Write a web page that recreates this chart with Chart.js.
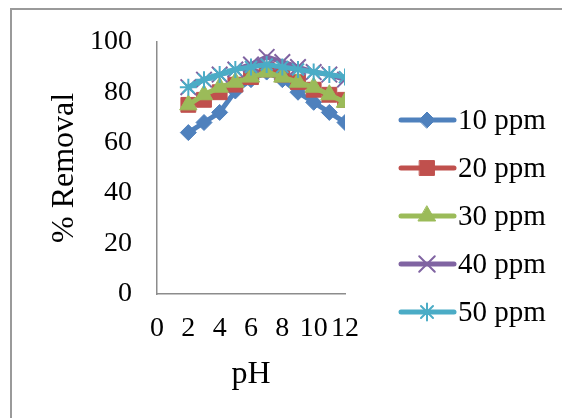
<!DOCTYPE html>
<html>
<head>
<meta charset="utf-8">
<script src="https://cdn.jsdelivr.net/npm/chart.js@4/dist/chart.umd.min.js"></script>
<style>
  html, body { margin: 0; padding: 0; background: #fff; }
  #wrap { position: relative; width: 562px; height: 418px; overflow: hidden; }
  #frame { position: absolute; left: 10px; top: 8px; width: 600px; height: 450px;
           border-top: 2px solid #9a9a9a; border-left: 2px solid #9a9a9a; }
  #chart { position: absolute; left: 0; top: 0; }
</style>
</head>
<body>
<div id="wrap">
  <div id="frame"></div>
  <canvas id="chart" width="562" height="418"></canvas>
</div>
<script>
// pH values and % removal per concentration
var phValues = [2, 3, 4, 5, 6, 7, 8, 9, 10, 11, 12];
var ppm10 = [64, 68, 72, 80.5, 85, 88, 85, 80, 76, 72, 68];
var ppm20 = [75, 77, 80, 83, 86, 89, 87, 84, 81, 79, 77];
var ppm30 = [75, 79, 82, 84, 86, 88, 86, 84, 82, 79, 76];
var ppm40 = [82, 85, 87, 89, 91, 94, 92, 90, 88, 87, 85];
var ppm50 = [82, 85, 87, 89, 90, 91, 90, 89, 88, 87, 86];
var seriesLabels = ['10 ppm', '20 ppm', '30 ppm', '40 ppm', '50 ppm'];
var xTicks = [0, 2, 4, 6, 8, 10, 12];
var yTicks = [0, 20, 40, 60, 80, 100];

var serif = '"Liberation Serif", "Times New Roman", serif';

function toPoints(vals) {
    return vals.map(function (v, i) { return { x: phValues[i], y: v }; });
}

function makeSet(label, vals, color, style, radius, bw, order) {
    return {
        label: label,
        data: toPoints(vals),
        borderColor: color,
        backgroundColor: color,
        borderWidth: 5,
        pointStyle: style,
        pointRadius: radius,
        pointHoverRadius: radius,
        pointBackgroundColor: color,
        pointBorderColor: color,
        pointBorderWidth: bw,
        tension: 0,
        order: order
    };
}

// legend on the right: line with marker in the middle, like the original
var sideLegend = {
    id: 'sideLegend',
    afterDraw: function (chart) {
        var ctx = chart.ctx;
        chart.data.datasets.forEach(function (ds, i) {
            var y = 120 + i * 48;
            ctx.save();
            ctx.strokeStyle = ds.borderColor;
            ctx.lineWidth = ds.borderWidth;
            ctx.lineCap = 'round';
            ctx.beginPath();
            ctx.moveTo(401, y);
            ctx.lineTo(454, y);
            ctx.stroke();
            ctx.fillStyle = ds.pointBackgroundColor;
            ctx.strokeStyle = ds.pointBorderColor;
            ctx.lineWidth = ds.pointBorderWidth;
            Chart.helpers.drawPoint(ctx, {
                pointStyle: ds.pointStyle,
                radius: ds.pointRadius,
                borderWidth: ds.pointBorderWidth,
                rotation: 0
            }, 427, y);
            ctx.fillStyle = '#000';
            ctx.font = '29px ' + serif;
            ctx.textAlign = 'left';
            ctx.textBaseline = 'middle';
            ctx.fillText(ds.label, 458, y + 1);
            ctx.restore();
        });
    }
};

var ctx = document.getElementById('chart').getContext('2d');
var myChart = new Chart(ctx, {
    type: 'line',
    data: {
        datasets: [
            makeSet(seriesLabels[0], ppm10, '#4F81BD', 'rectRot', 8, 1, 5),
            makeSet(seriesLabels[1], ppm20, '#C0504D', 'rect', 10.5, 1, 4),
            makeSet(seriesLabels[2], ppm30, '#9BBB59', 'triangle', 10, 1, 3),
            makeSet(seriesLabels[3], ppm40, '#8064A2', 'crossRot', 11, 2, 2),
            makeSet(seriesLabels[4], ppm50, '#4BACC6', 'star', 8.5, 2, 1)
        ]
    },
    options: {
        responsive: false,
        animation: false,
        events: [],
        layout: {
            padding: { left: 0, top: 39, right: 217, bottom: 0 }
        },
        scales: {
            x: {
                type: 'linear',
                min: 0,
                max: 12,
                afterBuildTicks: function (scale) {
                    scale.ticks = xTicks.map(function (v) { return { value: v }; });
                },
                afterFit: function (scale) { scale.height = 418 - 294; },
                grid: { display: false, drawTicks: false },
                border: { display: true, color: '#8c8c8c', width: 1.5 },
                ticks: {
                    color: '#000',
                    padding: 18,
                    maxRotation: 0,
                    autoSkip: false,
                    font: { family: serif, size: 28 }
                },
                title: {
                    display: true,
                    text: 'pH',
                    color: '#000',
                    font: { family: serif, size: 32 },
                    padding: { top: 0, bottom: 24 }
                }
            },
            y: {
                min: 0,
                max: 100,
                afterBuildTicks: function (scale) {
                    scale.ticks = yTicks.map(function (v) { return { value: v }; });
                },
                afterFit: function (scale) { scale.width = 157; },
                grid: { display: false, drawTicks: false },
                border: { display: true, color: '#8c8c8c', width: 1.5 },
                ticks: {
                    color: '#000',
                    padding: 25,
                    font: { family: serif, size: 28 }
                },
                title: {
                    display: true,
                    text: '% Removal',
                    color: '#000',
                    font: { family: serif, size: 32 },
                    padding: { top: 45, bottom: 0 }
                }
            }
        },
        plugins: {
            legend: { display: false },
            tooltip: { enabled: false }
        }
    },
    plugins: [sideLegend]
});
</script>
</body>
</html>
